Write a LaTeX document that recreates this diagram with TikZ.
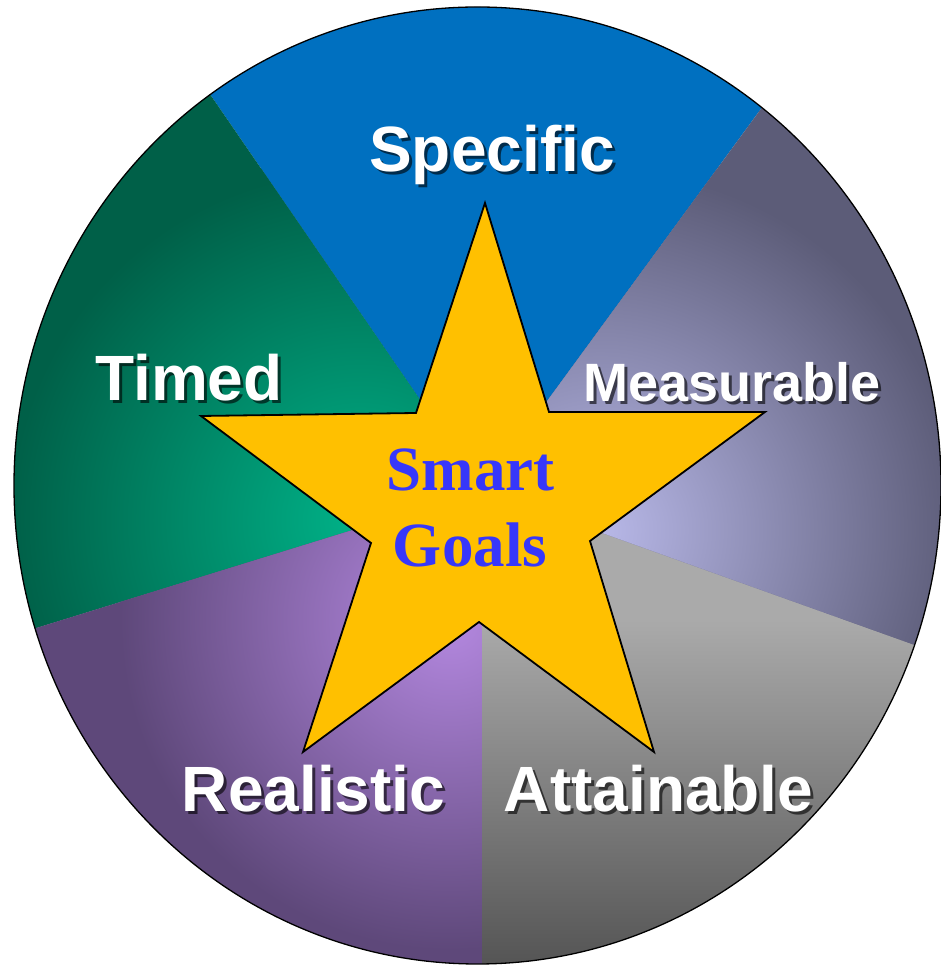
\documentclass[tikz,border=0pt]{standalone}
\usepackage{fontspec}
\setmainfont{Liberation Serif}
\setsansfont{Liberation Sans}

\begin{document}
\begin{tikzpicture}[
  x=1pt, y=1pt,
  % --- node styles ---
  lbl/.style={font=\sffamily\bfseries\fontsize{#1}{70}\selectfont,
              text=white, inner sep=0pt, anchor=base},
  lbl/.default=64,
  lblshd/.style={lbl=#1, text=black, opacity=0.6},
  lblshd/.default=64,
  goal/.style={font=\rmfamily\bfseries\fontsize{63}{70}\selectfont,
               text=cGoal, inner sep=0pt, anchor=base},
  starfill/.style={fill=cStar, draw=black, line width=1.8pt, line join=miter},
  rim/.style={draw=black, line width=1.3pt},
]
  % --- Colours ---
  \definecolor{cBlue}{RGB}{0,112,192}
  \definecolor{cStar}{RGB}{255,192,0}
  \definecolor{cGoal}{RGB}{55,55,250}
  \definecolor{cTimedD}{RGB}{0,96,72}
  \definecolor{cTimedL}{RGB}{0,178,136}
  \definecolor{cMeasD}{RGB}{92,92,120}
  \definecolor{cMeasL}{RGB}{184,184,232}
  \definecolor{cAttL}{RGB}{170,170,170}
  \definecolor{cAttD}{RGB}{85,85,85}
  \definecolor{cRealD}{RGB}{94,72,122}
  \definecolor{cRealL}{RGB}{180,136,224}

  \useasboundingbox (0,0) rectangle (941,966);

  % --- Wheel geometry ---
  \coordinate (apex) at (482,476);   % common corner of the wedges
  \coordinate (ctr)  at (477.5,480.5);
  \def\rx{463.5}
  \def\ry{478.5}
  % wedge borders (degrees)
  \def\aSM{53.8}   % specific / measurable
  \def\aST{124.5}  % specific / timed
  \def\aTR{197.2}  % timed / realistic
  \def\aRA{270}    % realistic / attainable
  \def\aAM{340.3}  % attainable / measurable

  % --- Wedges ---
  % Specific
  \begin{scope}
    \clip (apex) -- +(\aSM:1000) -- +(90:1000) -- +(\aST:1000) -- cycle;
    \clip (ctr) ellipse [x radius=\rx, y radius=\ry];
    \fill[cBlue] (0,0) rectangle (941,966);
  \end{scope}
  % Timed (glow round 360,446)
  \begin{scope}
    \clip (apex) -- +(\aST:1000) -- +(160:1000) -- +(\aTR:1000) -- cycle;
    \clip (ctr) ellipse [x radius=\rx, y radius=\ry];
    \fill[cTimedD] (0,0) rectangle (941,966);
    \shade[inner color=cTimedL, outer color=cTimedD]
      (10,96) rectangle (710,796);
  \end{scope}
  % Realistic (glow round 450,346)
  \begin{scope}
    \clip (apex) -- +(\aTR:1000) -- +(234:1000) -- +(\aRA:1000) -- cycle;
    \clip (ctr) ellipse [x radius=\rx, y radius=\ry];
    \fill[cRealD] (0,0) rectangle (941,966);
    \shade[inner color=cRealL, outer color=cRealD]
      (120,16) rectangle (780,676);
  \end{scope}
  % Attainable (top to bottom)
  \begin{scope}
    \clip (apex) -- +(\aRA:1000) -- +(305:1000) -- +(\aAM:1000) -- cycle;
    \clip (ctr) ellipse [x radius=\rx, y radius=\ry];
    \fill[cAttL] (0,0) rectangle (941,966);
    \shade[top color=cAttL, bottom color=cAttD]
      (400,2) rectangle (941,346);
  \end{scope}
  % Measurable (glow round 600,436)
  \begin{scope}
    \clip (apex) -- +(\aAM:1000) -- +(17:1000) -- +(\aSM:1000) -- cycle;
    \clip (ctr) ellipse [x radius=\rx, y radius=\ry];
    \fill[cMeasD] (0,0) rectangle (941,966);
    \shade[inner color=cMeasL, outer color=cMeasD]
      (240,76) rectangle (960,796);
  \end{scope}

  % --- Rim ---
  \draw[rim] (ctr) ellipse [x radius=\rx, y radius=\ry];

  % --- Star ---
  \coordinate (s1)  at (485,763);   % top
  \coordinate (s2)  at (549,554);
  \coordinate (s3)  at (765,554);   % right
  \coordinate (s4)  at (590,425);
  \coordinate (s5)  at (654,214);   % bottom right
  \coordinate (s6)  at (479,344);
  \coordinate (s7)  at (303,214);   % bottom left
  \coordinate (s8)  at (371,423);
  \coordinate (s9)  at (201,550);   % left
  \coordinate (s10) at (416,553);
  \draw[starfill] (s1) -- (s2) -- (s3) -- (s4) -- (s5) -- (s6)
    -- (s7) -- (s8) -- (s9) -- (s10) -- cycle;

  \node[goal] (smart) at (470.5,475) {Smart};
  \node[goal] (goals) at (470,399) {Goals};

  % --- Wedge labels (shadow first) ---
  \node[lblshd] (spec-s) at (495,791) {Specific};
  \node[lbl]    (spec)   at (492,794) {Specific};
  \node[lblshd] (time-s) at (192,562) {Timed};
  \node[lbl]    (time)   at (189,565) {Timed};
  \node[lblshd=54] (meas-s) at (735,561) {Measurable};
  \node[lbl=54]    (meas)   at (732,564) {Measurable};
  \node[lblshd] (real-s) at (316.5,151) {Realistic};
  \node[lbl]    (real)   at (313.5,154) {Realistic};
  \node[lblshd] (att-s)  at (661.5,151) {Attainable};
  \node[lbl]    (att)    at (658.5,154) {Attainable};
\end{tikzpicture}
\end{document}
